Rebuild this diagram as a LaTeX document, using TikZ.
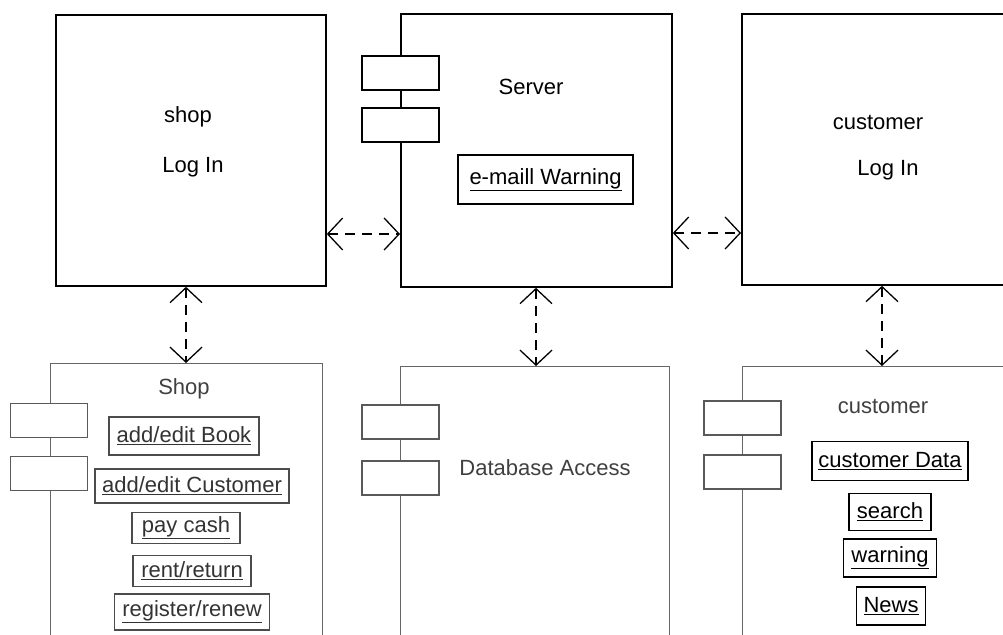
\documentclass[tikz,border=0pt]{standalone}
\usepackage{fontspec}
\setmainfont{Liberation Sans}
\usetikzlibrary{positioning, arrows.meta}

\begin{document}
\begin{tikzpicture}[
            x=1pt, y=-1pt,
            font=\fontsize{22}{26}\selectfont,
            comp/.style={draw, line width=1.8pt, anchor=north west},
            lowcomp/.style={draw=black!60, line width=1.2pt, anchor=north west},
            tab/.style={draw, fill=white, line width=1.5pt, minimum width=77pt, minimum height=34pt},
            lowtab/.style={tab, draw=black!65, line width=1.2pt},
            op/.style={draw, line width=1.5pt, inner xsep=3pt, inner ysep=2pt},
            lowop/.style={op, draw=black!70, text=black!80, line width=1.3pt},
            lowtext/.style={text=black!75},
            link/.style={line width=1.3pt, dash pattern=on 10pt off 7pt,
                {Straight Barb[length=15pt, width=32pt]}-{Straight Barb[length=15pt, width=32pt]}},
        ]
            \clip (0,0) rectangle (1003,634);
            % upper row
            \node[comp, minimum width=270pt, minimum height=271pt] (shopLogin) at (55,14) {};
            \node[comp, minimum width=271pt, minimum height=273pt] (server) at (400,13) {};
            \node[comp, minimum width=300pt, minimum height=271pt] (custLogin) at (741,13) {};
            \node[tab] (serverTabA) at (400.5,73) {};
            \node[tab] (serverTabB) at (400.5,125) {};
            \node (shopName) at (188,117) {shop};
            \node (shopLog) at (193,167) {Log In};
            \node (serverName) at (531,87) {Server};
            \node[op, minimum width=175pt, minimum height=49pt] (mailWarn) at (545.5,179.5) {\underline{e-maill Warning}};
            \node (custName) at (878,122) {customer};
            \node (custLog) at (888,170) {Log In};
            % lower row
            \node[lowcomp, minimum width=272pt, minimum height=300pt] (shopMod) at (50,363) {};
            \node[lowcomp, minimum width=269pt, minimum height=300pt] (dbAccess) at (400,366) {};
            \node[lowcomp, minimum width=300pt, minimum height=300pt] (custMod) at (742,366) {};
            \node[lowtab] (shopTabA) at (49,420.5) {};
            \node[lowtab] (shopTabB) at (49,473.5) {};
            \node[lowtab] (dbTabA) at (400.5,422) {};
            \node[lowtab] (dbTabB) at (400.5,478) {};
            \node[lowtab] (custTabA) at (742.5,418) {};
            \node[lowtab] (custTabB) at (742.5,472) {};
            \node[lowtext] (shopTitle) at (184,389) {Shop};
            \node[lowop, minimum width=150pt, minimum height=38pt] (addBook) at (184,436) {\underline{add/edit Book}};
            \node[lowop, minimum width=194pt, minimum height=34pt] (addCust) at (192,486) {\underline{add/edit Customer}};
            \node[lowop, minimum width=108pt, minimum height=31pt] (payCash) at (186,528) {\underline{pay cash}};
            \node[lowop, minimum width=118pt, minimum height=31pt] (rentRet) at (192,571) {\underline{rent/return}};
            \node[lowop, minimum width=155pt, minimum height=36pt] (regRenew) at (192,612) {\underline{register/renew}};
            \node[lowtext] (dbTitle) at (545,468) {Database Access};
            \node[lowtext] (custTitle) at (883,406) {customer};
            \node[op, minimum width=156pt, minimum height=39pt] (custData) at (890,461) {\underline{customer Data}};
            \node[op, minimum width=82pt, minimum height=37pt] (search) at (890,512) {\underline{search}};
            \node[op, minimum width=93pt, minimum height=38pt] (warning) at (890,558) {\underline{warning}};
            \node[op, minimum width=69pt, minimum height=38pt] (news) at (891,606) {\underline{News}};
            % links
            \draw[link] (shopLogin.east |- 0,234) -- (server.west |- 0,234);
            \draw[link] (server.east |- 0,233) -- (custLogin.west |- 0,233);
            \draw[link] (shopLogin.south -| 186,0) -- (shopMod.north -| 186,0);
            \draw[link] (server.south -| 536,0) -- (dbAccess.north -| 536,0);
            \draw[link] (custLogin.south -| 882,0) -- (custMod.north -| 882,0);
        \end{tikzpicture}
\end{document}
